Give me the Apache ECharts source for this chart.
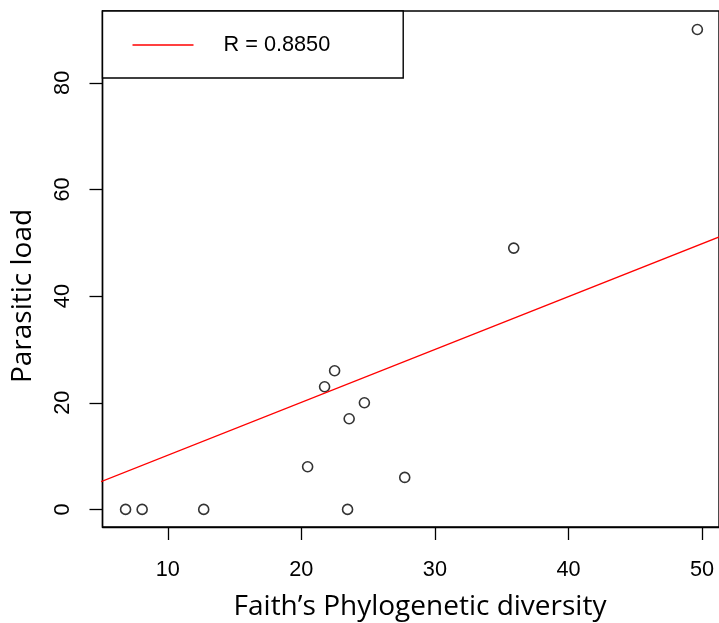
<!DOCTYPE html>
<html>
<head>
<meta charset="utf-8">
<script src="https://cdn.jsdelivr.net/npm/echarts@6/dist/echarts.min.js"></script>
<style>html,body{margin:0;padding:0;background:#fff;}#c{width:719px;height:623px;}</style>
</head>
<body>
<div id="c"></div>
<script>
// Data
const diversity = [6.84, 8.08, 12.69, 20.47, 21.74, 22.49, 23.46, 23.58, 24.72, 27.74, 35.9, 49.65];
const parasiticLoad = [0, 0, 0, 8, 23, 26, 0, 17, 20, 6, 49, 90];
const fitX = [5.0, 52.0];
const fitY = [5.2, 51.8];
const xTicks = [10, 20, 30, 40, 50];
const yTicks = [0, 20, 40, 60, 80];
const legendLabel = 'R = 0.8850';
const xTitle = 'Faith\u2019s Phylogenetic diversity';
const yTitle = 'Parasitic load';

const points = diversity.map((x, i) => [x, parasiticLoad[i]]);
const fitLine = fitX.map((x, i) => [x, fitY[i]]);

const chart = echarts.init(document.getElementById('c'), null, {renderer: 'canvas'});
const tickFont = {fontFamily: 'Liberation Sans', fontSize: 21.7, color: '#000'};
chart.setOption({
  animation: false,
  backgroundColor: '#fff',
  grid: {left: 102.5, top: 11, width: 618.5, height: 516, show: true, borderColor: '#000', borderWidth: 1.4, backgroundColor: 'transparent'},
  xAxis: {
    type: 'value', min: 5.112, max: 51.27,
    splitLine: {show: false},
    axisLine: {show: true, onZero: false, lineStyle: {color: '#000', width: 1.4}},
    axisTick: {show: true, inside: false, length: 13, lineStyle: {color: '#000', width: 1.3}, customValues: xTicks},
    axisLabel: {show: true, margin: 32, customValues: xTicks, ...tickFont}
  },
  yAxis: {
    type: 'value', min: -3.3, max: 93.47,
    splitLine: {show: false},
    axisLine: {show: true, onZero: false, lineStyle: {color: '#000', width: 1.4}},
    axisTick: {show: true, inside: false, length: 13, lineStyle: {color: '#000', width: 1.3}, customValues: yTicks},
    axisLabel: {show: true, margin: 28, rotate: 90, customValues: yTicks, ...tickFont}
  },
  legend: {
    show: true, left: 102.5, top: 11, orient: 'horizontal',
    padding: [23, 73, 22, 30],
    backgroundColor: '#fff', borderColor: '#000', borderWidth: 1.4,
    itemWidth: 61, itemHeight: 1.5, icon: 'rect',
    textStyle: {fontFamily: 'Liberation Sans', fontSize: 21.7, color: '#000', padding: [0, 0, 0, 25]},
    data: [legendLabel]
  },
  series: [
    {
      type: 'scatter', data: points, symbol: 'circle', symbolSize: 10,
      itemStyle: {color: 'rgba(0,0,0,0)', borderColor: '#000', borderWidth: 1.6},
      z: 2
    },
    {
      name: legendLabel, type: 'line', data: fitLine, symbol: 'none', clip: true,
      lineStyle: {color: '#ff0000', width: 1.4}, itemStyle: {color: '#ff0000'},
      z: 3
    }
  ],
  graphic: [
    {type: 'text', x: 420, y: 607, style: {text: xTitle, font: '28px "Open Sans"', fill: '#000', align: 'center', verticalAlign: 'middle'}},
    {type: 'text', x: 23, y: 296, rotation: Math.PI / 2, style: {text: yTitle, font: '28px "Open Sans"', fill: '#000', align: 'center', verticalAlign: 'middle'}}
  ]
});
</script>
</body>
</html>
